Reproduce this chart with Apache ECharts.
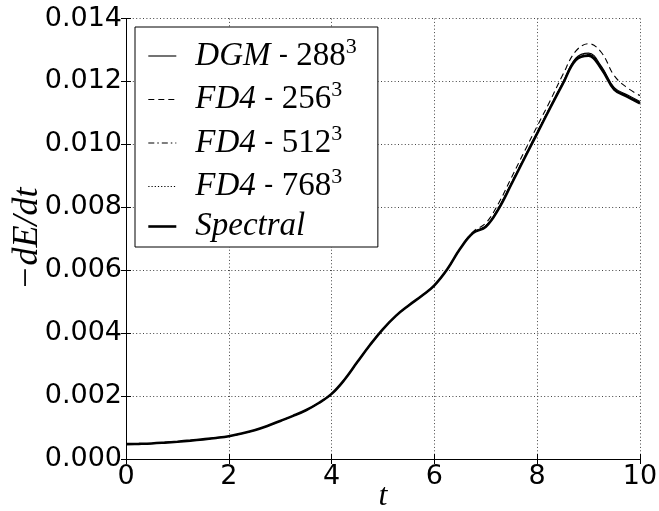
<!DOCTYPE html>
<html>
<head>
<meta charset="utf-8">
<script src="https://cdn.jsdelivr.net/npm/echarts@6/dist/echarts.min.js"></script>
<style>
  html, body { margin: 0; padding: 0; background: #fff; }
  #chart { width: 659px; height: 511px; }
</style>
</head>
<body>
<div id="chart"></div>
<script>
// Kinetic energy dissipation rate -dE/dt versus time t
const tValues = [0, 0.25, 0.5, 0.75, 1, 1.25, 1.5, 1.75, 2, 2.25, 2.5, 2.75, 3, 3.25, 3.5, 3.75,
  4, 4.25, 4.5, 4.75, 5, 5.25, 5.5, 5.75, 6, 6.25, 6.5, 6.75, 7, 7.25, 7.5, 7.75,
  8, 8.25, 8.5, 8.75, 9, 9.25, 9.5, 9.75, 10];

const spectral = [0.000474, 0.000482, 0.000495, 0.000520, 0.000550, 0.000585, 0.000625, 0.000670,
  0.000725, 0.000810, 0.000915, 0.00105, 0.00121, 0.00137, 0.00155, 0.00178,
  0.00207, 0.00252, 0.00308, 0.00363, 0.00413, 0.00455, 0.00488, 0.00518,
  0.00552, 0.00603, 0.00668, 0.00718, 0.00738, 0.00795, 0.00874, 0.00955,
  0.01035, 0.01115, 0.01193, 0.01268, 0.01282, 0.01240, 0.01174, 0.01152, 0.01130];

const dgm288 = [0.000474, 0.000482, 0.000495, 0.000520, 0.000550, 0.000585, 0.000625, 0.000670,
  0.000725, 0.000810, 0.000915, 0.00105, 0.00121, 0.00137, 0.00155, 0.00178,
  0.00207, 0.00252, 0.00308, 0.00363, 0.00413, 0.00455, 0.00488, 0.00518,
  0.00552, 0.00603, 0.00668, 0.00719, 0.00740, 0.00798, 0.00877, 0.00958,
  0.01038, 0.01118, 0.01197, 0.01274, 0.01290, 0.01248, 0.01180, 0.01158, 0.01136];

const fd256 = [0.000474, 0.000482, 0.000495, 0.000520, 0.000550, 0.000585, 0.000625, 0.000670,
  0.000725, 0.000810, 0.000915, 0.00105, 0.00121, 0.00137, 0.00155, 0.00178,
  0.00207, 0.00252, 0.00308, 0.00363, 0.00413, 0.00455, 0.00488, 0.00518,
  0.00552, 0.00603, 0.00669, 0.00722, 0.00750, 0.00813, 0.00895, 0.00977,
  0.01058, 0.01138, 0.01222, 0.01296, 0.01320, 0.01292, 0.01218, 0.01180, 0.01155];

const fd512 = [0.000474, 0.000482, 0.000495, 0.000520, 0.000550, 0.000585, 0.000625, 0.000670,
  0.000725, 0.000810, 0.000915, 0.00105, 0.00121, 0.00137, 0.00155, 0.00178,
  0.00207, 0.00252, 0.00308, 0.00363, 0.00413, 0.00455, 0.00488, 0.00518,
  0.00552, 0.00603, 0.00668, 0.00719, 0.00741, 0.00799, 0.00879, 0.00959,
  0.01039, 0.01119, 0.01196, 0.01270, 0.01286, 0.01244, 0.01177, 0.01155, 0.01133];

const fd768 = [0.000474, 0.000482, 0.000495, 0.000520, 0.000550, 0.000585, 0.000625, 0.000670,
  0.000725, 0.000810, 0.000915, 0.00105, 0.00121, 0.00137, 0.00155, 0.00178,
  0.00207, 0.00252, 0.00308, 0.00363, 0.00413, 0.00455, 0.00488, 0.00518,
  0.00552, 0.00603, 0.00668, 0.00718, 0.00739, 0.00797, 0.00876, 0.00957,
  0.01037, 0.01117, 0.01194, 0.01269, 0.01283, 0.01242, 0.01175, 0.01153, 0.01131];

// Legend entries: method name and grid resolution (cubed)
const methods = ['DGM', 'FD4', 'FD4', 'FD4', 'Spectral'];
const resolutions = ['288', '256', '512', '768', ''];
const valueSets = [dgm288, fd256, fd512, fd768, spectral];
const dashTypes = ['solid', [6, 4], [6, 3, 1.5, 3], [1.2, 2], 'solid'];
const lineWidths = [1.1, 1.1, 1.1, 1.1, 2.6];

const xTickStep = 2;
const yTickStep = 0.002;

const seriesNames = methods.map((m, i) => resolutions[i] ? m + ' - ' + resolutions[i] + '³' : m);

const serifMath = 'Liberation Serif';
const richStyles = {
  m: { fontFamily: serifMath, fontStyle: 'italic', fontSize: 33, lineHeight: 40, color: '#000' },
  s: { fontFamily: 'DejaVu Sans', fontSize: 26, lineHeight: 40, color: '#000' },
  n: { fontFamily: serifMath, fontSize: 33, lineHeight: 40, color: '#000' },
  p: { fontFamily: serifMath, fontSize: 22, lineHeight: 24, verticalAlign: 'top', color: '#000' }
};

const gridDots = { show: true, lineStyle: { color: '#444', width: 1, type: [1, 2.4] } };
const frameLine = { show: true, lineStyle: { color: '#000', width: 1 } };
const tickIn = { show: true, inside: true, length: 5, lineStyle: { color: '#000', width: 1 } };
const tickFont = { fontFamily: 'DejaVu Sans', fontSize: 27, color: '#000' };

const chart = echarts.init(document.getElementById('chart'), null, { renderer: 'canvas' });

chart.setOption({
  backgroundColor: '#fff',
  animation: false,
  grid: {
    left: 126, right: 19, top: 18.5, bottom: 52,
    containLabel: false,
    outerBoundsMode: 'none',
    show: false
  },
  legend: {
    orient: 'vertical',
    left: 135,
    top: 27,
    padding: [9, 21, 4, 12],
    itemWidth: 28,
    itemHeight: 14,
    itemGap: 7,
    backgroundColor: '#fff',
    borderColor: '#000',
    borderWidth: 1,
    borderRadius: 0,
    itemStyle: { color: 'rgba(0,0,0,0)', borderWidth: 0, opacity: 0 },
    data: seriesNames.map((name, i) => ({
      name: name,
      lineStyle: { color: '#000', width: lineWidths[i], type: dashTypes[i] }
    })),
    textStyle: { padding: [0, 0, 0, 14], rich: richStyles },
    formatter: function (name) {
      const i = seriesNames.indexOf(name);
      if (resolutions[i]) {
        return '{m|' + methods[i] + '}{s| - }{n|' + resolutions[i] + '}{p|3}';
      }
      return '{m|' + methods[i] + '}';
    }
  },
  xAxis: [{
    type: 'value', min: 0, max: 10, interval: xTickStep,
    position: 'bottom',
    name: 't',
    nameLocation: 'middle',
    nameGap: 22,
    nameMoveOverlap: false,
    nameTextStyle: { fontFamily: serifMath, fontStyle: 'italic', fontSize: 32, color: '#000' },
    axisLine: frameLine,
    axisTick: tickIn,
    axisLabel: Object.assign({ margin: 4 }, tickFont),
    splitLine: gridDots
  }, {
    type: 'value', min: 0, max: 10, interval: xTickStep,
    position: 'top',
    axisLine: frameLine,
    axisTick: tickIn,
    axisLabel: { show: false },
    splitLine: { show: false }
  }],
  yAxis: [{
    type: 'value', min: 0, max: 0.014, interval: yTickStep,
    position: 'left',
    name: '−dE/dt',
    nameLocation: 'middle',
    nameRotate: 90,
    nameGap: 80,
    nameMoveOverlap: false,
    nameTextStyle: { fontFamily: serifMath, fontStyle: 'italic', fontSize: 36, color: '#000' },
    axisLine: frameLine,
    axisTick: tickIn,
    axisLabel: Object.assign({ margin: 4, formatter: v => v.toFixed(3) }, tickFont),
    splitLine: gridDots
  }, {
    type: 'value', min: 0, max: 0.014, interval: yTickStep,
    position: 'right',
    axisLine: frameLine,
    axisTick: tickIn,
    axisLabel: { show: false },
    splitLine: { show: false }
  }],
  series: valueSets.map((vals, i) => ({
    name: seriesNames[i],
    type: 'line',
    xAxisIndex: 0,
    yAxisIndex: 0,
    showSymbol: false,
    symbol: 'none',
    smooth: 0.4,
    z: i === 4 ? 3 : 2,
    lineStyle: { color: '#000', width: lineWidths[i], type: dashTypes[i] },
    itemStyle: { color: '#000' },
    data: tValues.map((t, k) => [t, vals[k]])
  }))
});
</script>
</body>
</html>
